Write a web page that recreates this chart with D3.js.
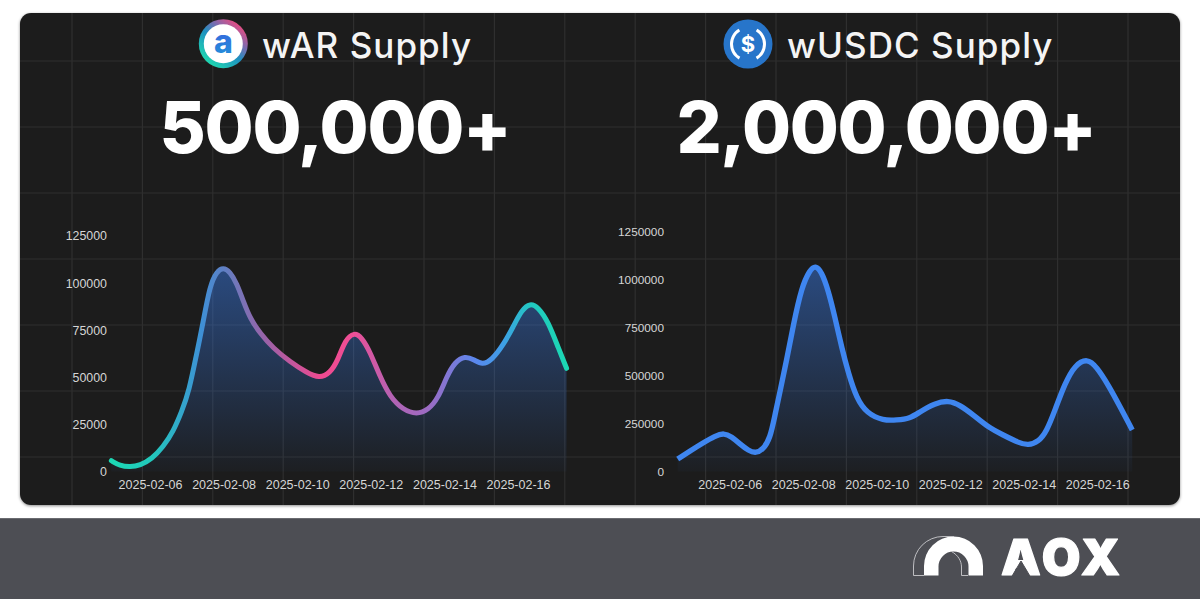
<!DOCTYPE html>
<html><head><meta charset="utf-8">
<script src="https://cdn.jsdelivr.net/npm/d3@7"></script>
<style>html,body{margin:0;padding:0;background:#fff;overflow:hidden}svg{display:block}text{font-family:Inter,"Liberation Sans",sans-serif}</style>
</head><body><svg id="c" width="1200" height="600"></svg>
<script>
const titles = ["wAR Supply", "wUSDC Supply"];
const headlines = ["500,000+", "2,000,000+"];
const tickDays = [6, 8, 10, 12, 14, 16];
const warTicks = [0, 25000, 50000, 75000, 100000, 125000];
const usdcTicks = [0, 250000, 500000, 750000, 1000000, 1250000];
const warDays = [4.95,5.18,5.46,5.73,6.05,6.36,6.63,6.86,7.06,7.27,7.43,7.63,7.81,7.99,8.17,8.36,8.54,8.72,8.99,9.35,9.80,10.26,10.60,10.89,11.11,11.30,11.55,11.75,11.98,12.25,12.52,12.88,13.25,13.56,13.83,14.06,14.29,14.56,14.79,15.03,15.29,15.60,15.87,16.10,16.33,16.55,16.82,17.10,17.32];
const warValues = [5730,3080,2390,3290,6640,13160,21130,31740,42570,62740,77760,99000,106050,108400,106050,99900,90130,81320,73360,65400,58280,52440,49500,52120,59180,69800,73900,71230,63590,50320,39700,32640,30300,32640,38850,50320,58280,61300,59550,56500,59180,67150,76860,85720,89400,87160,79520,65400,54780];
const usdcDays = [4.585,4.92,5.28,5.60,5.845,6.05,6.28,6.51,6.715,6.91,7.10,7.232,7.37,7.55,7.73,7.96,8.18,8.33,8.50,8.68,8.86,9.05,9.23,9.45,9.73,10.18,10.54,10.90,11.18,11.58,11.95,12.26,12.63,13.03,13.44,13.85,14.12,14.40,14.62,14.85,15.12,15.39,15.73,15.98,16.30,16.62,16.95];
const usdcValues = [65160,106870,150130,185060,201000,181410,143360,108430,95000,115730,173070,294550,418080,581250,763700,963370,1050430,1075000,1041560,946160,806970,642240,511920,381590,303400,264820,268470,275250,311740,355530,371000,346660,294530,230410,190270,150130,135500,155350,207480,320600,459780,555180,590000,546330,450930,337800,216340];
const gridX = d3.range(16);
const gridY = d3.range(7);

const svg = d3.select("#c");
const defs = svg.append("defs");
const sh = defs.append("filter").attr("id","sh").attr("x","-2%").attr("y","-2%").attr("width","104%").attr("height","104%");
sh.append("feDropShadow").attr("dx",0).attr("dy",1).attr("stdDeviation",1.5).attr("flood-color","#000").attr("flood-opacity",0.45);
const clip = defs.append("clipPath").attr("id","card");
clip.append("rect").attr("x",20).attr("y",13).attr("width",1160).attr("height",492).attr("rx",11);

svg.append("rect").attr("x",20).attr("y",13).attr("width",1160).attr("height",492).attr("rx",11).attr("fill","#1c1c1c").attr("filter","url(#sh)");
const grid = svg.append("g").attr("clip-path","url(#card)").attr("stroke","#2f2f2f").attr("stroke-width",1.2);
grid.selectAll("line.v").data(gridX).join("line").attr("class","v")
  .attr("x1",i=>72+i*70.4).attr("x2",i=>72+i*70.4).attr("y1",13).attr("y2",505);
grid.selectAll("line.h").data(gridY).join("line").attr("class","h")
  .attr("y1",i=>61+i*66).attr("y2",i=>61+i*66).attr("x1",20).attr("x2",1180);

// footer
svg.append("rect").attr("x",0).attr("y",518).attr("width",1200).attr("height",81).attr("fill","#4d4e54");
svg.append("rect").attr("x",0).attr("y",518).attr("width",1200).attr("height",1).attr("fill","#6a6b70");

// gradients
const strokeGrad = defs.append("linearGradient").attr("id","warStroke").attr("gradientUnits","userSpaceOnUse")
  .attr("x1",111).attr("x2",567).attr("y1",0).attr("y2",0);
[[0,"#1cd8b4"],[0.09,"#22c8bc"],[0.2,"#3f8fd6"],[0.27,"#6f78bb"],[0.34,"#9a62a8"],[0.46,"#ef4a90"],[0.53,"#ee4f96"],[0.62,"#b263b4"],[0.7,"#9a6cc4"],[0.8,"#5a88ee"],[0.86,"#3e9fe6"],[0.92,"#22c8c0"],[1,"#1cd8b4"]]
  .forEach(([o,c])=>strokeGrad.append("stop").attr("offset",o).attr("stop-color",c));
const fillGrad = defs.append("linearGradient").attr("id","areaFill").attr("gradientUnits","userSpaceOnUse").attr("x1",0).attr("x2",0).attr("y1",266).attr("y2",471);
fillGrad.append("stop").attr("offset",0).attr("stop-color","#3b82f6").attr("stop-opacity",0.46);
fillGrad.append("stop").attr("offset",1).attr("stop-color","#3b82f6").attr("stop-opacity",0.03);

function chart(o){
  const x = d3.scaleLinear().domain([6,16]).range(o.xr);
  const y = d3.scaleLinear().domain([0,o.ticks[o.ticks.length-1]]).range(o.yr);
  const pts = o.days.map((d,i)=>[d,o.values[i]]);
  const g = svg.append("g");
  const area = d3.area().x(d=>x(d[0])).y1(d=>y(d[1])).y0(y(0)).curve(d3.curveBasis);
  const line = d3.line().x(d=>x(d[0])).y(d=>y(d[1])).curve(d3.curveBasis);
  g.append("path").attr("d",area(pts)).attr("fill","url(#areaFill)");
  g.append("path").attr("d",line(pts)).attr("fill","none").attr("stroke",o.stroke).attr("stroke-width",o.sw).attr("stroke-linecap",o.cap);
  const ax = g.append("g").attr("transform",`translate(0,${o.axisY})`)
    .call(d3.axisBottom(x).tickValues(tickDays).tickSize(0).tickPadding(0)
      .tickFormat(d=>`2025-02-${String(d).padStart(2,"0")}`));
  ax.select(".domain").remove();
  ax.selectAll("text").attr("fill","#d6d6d6").attr("dy","0.35em").attr("y",0)
    .style("font-size","12.5px").style("font-family",'"Liberation Sans",Arial,sans-serif');
  const ay = g.append("g").attr("transform",`translate(${o.axisX},0)`)
    .call(d3.axisLeft(y).tickValues(o.ticks).tickSize(0).tickPadding(0).tickFormat(d=>String(d)));
  ay.select(".domain").remove();
  ay.selectAll("text").attr("fill","#d6d6d6").attr("x",0)
    .style("font-size",o.yFont).style("font-family",'"Liberation Sans",Arial,sans-serif');
}
chart({days:warDays,values:warValues,ticks:warTicks,xr:[150,518],yr:[471.5,236],axisY:485,axisX:107,stroke:"url(#warStroke)",sw:5,cap:"round",yFont:"12.4px"});
chart({days:usdcDays,values:usdcValues,ticks:usdcTicks,xr:[729.7,1097.3],yr:[471.5,231.7],axisY:485,axisX:664,stroke:"#3f86f0",sw:5.4,cap:"butt",yFont:"11.8px"});

// headers
function header(i,tx,hx){
  svg.append("text").attr("x",tx).attr("y",58).attr("fill","#f4f4f4").attr("font-size",35).attr("font-weight",500).attr("letter-spacing",1.05).text(titles[i]);
  svg.append("text").attr("x",hx).attr("y",153).attr("text-anchor","middle").attr("fill","#fff").attr("font-size",71).attr("font-weight",800).attr("letter-spacing",-1.3).text(headlines[i]);
}
header(0,262,335);
header(1,787,886);

// wAR icon
const ringG = defs.append("linearGradient").attr("id","ring").attr("x1",0.85).attr("y1",0.1).attr("x2",0.2).attr("y2",0.9);
[[0,"#ef4a7e"],[0.3,"#7c6bb0"],[0.55,"#1f8fc0"],[1,"#1fd6b0"]].forEach(([o,c])=>ringG.append("stop").attr("offset",o).attr("stop-color",c));
const aG = defs.append("linearGradient").attr("id","aFill").attr("x1",0).attr("y1",0).attr("x2",0).attr("y2",1);
aG.append("stop").attr("offset",0).attr("stop-color","#3d5ce0");aG.append("stop").attr("offset",1).attr("stop-color","#1f96d8");
svg.append("circle").attr("cx",223.3).attr("cy",43.7).attr("r",24.5).attr("fill","url(#ring)");
svg.append("circle").attr("cx",223.3).attr("cy",43.7).attr("r",19.5).attr("fill","#fff");
svg.append("text").attr("x",223.3).attr("y",53).attr("text-anchor","middle").attr("font-size",32).attr("font-weight",800).attr("fill","url(#aFill)").text("a");

// USDC icon
const cx=748,cy=44;
svg.append("circle").attr("cx",cx).attr("cy",cy).attr("r",24.5).attr("fill","#2775ca");
const arc=d3.arc().innerRadius(15).outerRadius(18);
[[-2.6,-0.55],[0.55,2.6]].forEach(([a,b])=>svg.append("path").attr("transform",`translate(${cx},${cy})`).attr("d",arc({startAngle:a,endAngle:b})).attr("fill","#fff"));
svg.append("text").attr("x",cx).attr("y",cy+8).attr("text-anchor","middle").attr("font-size",22).attr("font-weight",700).attr("fill","#fff").text("$");

// AOX logo
const lg=svg.append("g");
lg.append("path").attr("d","M924 575.5V566A29.5 29.5 0 0 1 983 566V575.5H968.5V566.5A15 15 0 0 0 938.5 566.5V575.5Z").attr("fill","#fff");
lg.append("path").attr("d","M913.5 575.5V566A29.5 29.5 0 0 1 943 536.5H954M913.5 575.5H924M951.5 551.5C958 555 961.5 561 961.5 567V575.5H968").attr("fill","none").attr("stroke","#c9cacd").attr("stroke-width",0.9);
svg.append("text").attr("x",1001).attr("y",575).attr("fill","#fff").attr("stroke","#fff").attr("stroke-width",1.2).attr("stroke-linejoin","round").attr("font-size",50).attr("font-weight",900).attr("letter-spacing",3.5).text("AOX");
svg.append("path").attr("d","M1021 561L1030.5 577H1011.5Z").attr("fill","#4d4e54").attr("stroke","#4d4e54").attr("stroke-width",1).attr("stroke-linejoin","round");
</script></body></html>
